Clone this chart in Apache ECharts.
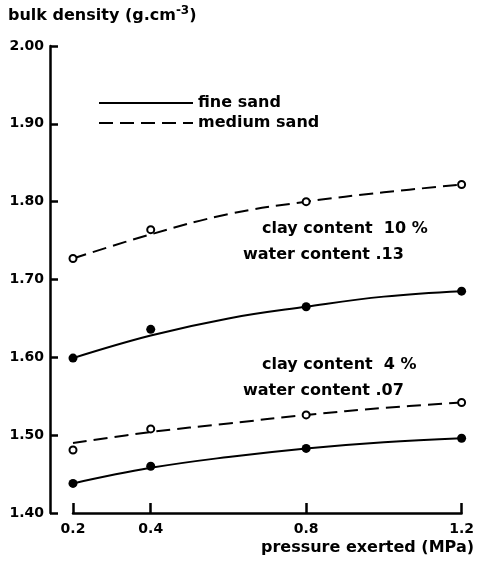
<!DOCTYPE html>
<html>
<head>
<meta charset="utf-8">
<script src="https://cdn.jsdelivr.net/npm/echarts@6/dist/echarts.min.js"></script>
<style>
  html, body { margin: 0; padding: 0; background: #fff; }
  #chart { width: 477px; height: 563px; }
</style>
</head>
<body>
<div id="chart"></div>
<script>
// measured points (pressure MPa, bulk density)
const pressure = [0.2, 0.4, 0.8, 1.2];
const fine10 = [1.599, 1.636, 1.665, 1.685];
const medium10 = [1.727, 1.764, 1.800, 1.822];
const fine4 = [1.438, 1.460, 1.483, 1.496];
const medium4 = [1.481, 1.508, 1.526, 1.542];

// fitted curves
const curveX = [0.2, 0.4, 0.6, 0.8, 1.0, 1.2];
const fine10Curve = [1.599, 1.628, 1.650, 1.665, 1.678, 1.685];
const medium10Curve = [1.727, 1.758, 1.784, 1.800, 1.812, 1.822];
const fine4Curve = [1.438, 1.458, 1.472, 1.483, 1.491, 1.496];
const medium4Curve = [1.490, 1.504, 1.515, 1.526, 1.535, 1.542];

const xTicks = [0.2, 0.4, 0.8, 1.2];

const FONT = 'DejaVu Sans';
const tickTxt = { fontFamily: FONT, fontSize: 14, fontWeight: 'bold', color: '#000' };
const BIG = 'bold 16px "DejaVu Sans"';

const pairs = (xs, ys) => xs.map((x, i) => [x, ys[i]]);

const curve = (name, ys, dashed) => ({
  name: name,
  type: 'line',
  smooth: 0.4,
  symbol: 'none',
  data: pairs(curveX, ys),
  lineStyle: { color: '#000', width: 2, type: dashed ? [14, 7] : 'solid' },
  itemStyle: { color: '#000' },
  z: 2
});

const dots = (ys, open) => ({
  type: 'scatter',
  data: pairs(pressure, ys),
  symbol: 'circle',
  symbolSize: open ? 7 : 9,
  itemStyle: open
    ? { color: '#fff', borderColor: '#000', borderWidth: 2, opacity: 1 }
    : { color: '#000', opacity: 1 },
  z: 3
});

const gtext = (left, top, text) => ({
  type: 'text', left: left, top: top,
  style: { text: text, font: BIG, fill: '#000' }
});

const chart = echarts.init(document.getElementById('chart'));

chart.setOption({
  animation: false,
  backgroundColor: '#fff',
  grid: { left: 73, right: 11, top: 46, bottom: 50 },
  legend: {
    orient: 'vertical',
    left: 93,
    top: 90,
    itemWidth: 94,
    itemHeight: 18,
    itemGap: 4,
    itemStyle: { opacity: 0 },
    textStyle: { fontFamily: FONT, fontSize: 16, fontWeight: 'bold', color: '#000' },
    data: ['fine sand', 'medium sand']
  },
  xAxis: {
    type: 'value',
    min: 0.2,
    max: 1.2,
    splitLine: { show: false },
    axisLine: { lineStyle: { color: '#000', width: 2.5 } },
    axisTick: { inside: true, length: 10, customValues: xTicks, lineStyle: { color: '#000', width: 2.5 } },
    axisLabel: Object.assign({ customValues: xTicks, margin: 9, formatter: v => v.toFixed(1) }, tickTxt)
  },
  yAxis: {
    type: 'value',
    min: 1.4,
    max: 2.0,
    interval: 0.1,
    offset: 23,
    splitLine: { show: false },
    axisLine: { lineStyle: { color: '#000', width: 2.5 } },
    axisTick: { inside: true, length: 8, lineStyle: { color: '#000', width: 2.5 } },
    axisLabel: Object.assign({ margin: 6, formatter: v => v.toFixed(2) }, tickTxt)
  },
  graphic: [
    {
      type: 'text', left: 8, top: 5,
      style: {
        text: 'bulk density (g.cm{sup|-3})',
        font: BIG, fill: '#000',
        rich: { sup: { fontFamily: FONT, fontWeight: 'bold', fontSize: 12, verticalAlign: 'top', padding: [0, 0, 9, 0] } }
      }
    },
    { type: 'text', right: 3, top: 540, style: { text: 'pressure exerted (MPa)', font: BIG, fill: '#000' } },
    gtext(262, 221, 'clay content  10 %'),
    gtext(243, 247, 'water content .13'),
    gtext(262, 357, 'clay content  4 %'),
    gtext(243, 383, 'water content .07')
  ],
  series: [
    curve('fine sand', fine10Curve, false),
    curve('medium sand', medium10Curve, true),
    curve('fine sand', fine4Curve, false),
    curve('medium sand', medium4Curve, true),
    dots(fine10, false),
    dots(medium10, true),
    dots(fine4, false),
    dots(medium4, true)
  ]
});
</script>
</body>
</html>
